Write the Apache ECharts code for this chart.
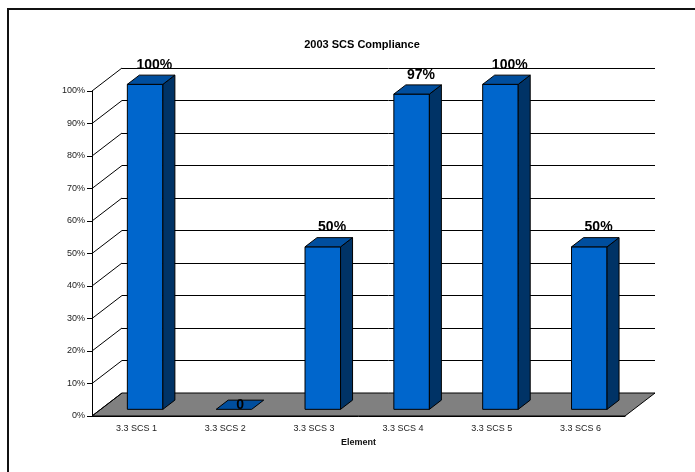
<!DOCTYPE html>
<html>
<head>
<meta charset="utf-8">
<script src="https://cdn.jsdelivr.net/npm/echarts@6/dist/echarts.min.js"></script>
<style>
  html, body { margin: 0; padding: 0; background: #fff; }
  #chart { width: 695px; height: 472px; }
</style>
</head>
<body>
<div id="chart"></div>
<script>
// Compliance results per element (percent)
const categories = ['3.3 SCS 1', '3.3 SCS 2', '3.3 SCS 3', '3.3 SCS 4', '3.3 SCS 5', '3.3 SCS 6'];
const compliance = [100, 0, 50, 97, 100, 50];
const percentTicks = [0, 10, 20, 30, 40, 50, 60, 70, 80, 90, 100];

// Pseudo-3D look: the back wall is shifted right/up by this depth vector
const DEPTH_X = 30;
const DEPTH_Y = 23;
const BAR_FRONT = 0.29;   // bar front face, as fraction of the depth
const BAR_BACK = 0.69;    // bar back face
const BAR_WIDTH = 0.4;    // fraction of a category band
const FONT = '"Liberation Sans", Arial, sans-serif';

const COLOR_FRONT = '#0066CC';
const COLOR_TOP = '#004E9E';
const COLOR_SIDE = '#003366';
const COLOR_FLOOR = '#808080';

function valueLabel(v) {
  return v === 0 ? '0' : v + '%';
}

const chart = echarts.init(document.getElementById('chart'), null, { renderer: 'canvas' });

// Grey floor under the bars
function renderFloor(params, api) {
  const cs = params.coordSys;
  const y0 = api.coord([0, 0])[1];
  const x0 = cs.x, x1 = cs.x + cs.width;
  return {
    type: 'polygon',
    shape: { points: [[x0, y0], [x1, y0], [x1 + DEPTH_X, y0 - DEPTH_Y], [x0 + DEPTH_X, y0 - DEPTH_Y]] },
    style: { fill: COLOR_FLOOR, stroke: '#000', lineWidth: 1 }
  };
}

// Diagonal gridlines on the left side wall
function renderWallLine(params, api) {
  const cs = params.coordSys;
  const y = api.coord([0, api.value(1)])[1];
  return {
    type: 'line',
    shape: { x1: cs.x, y1: y, x2: cs.x + DEPTH_X, y2: y - DEPTH_Y },
    style: { stroke: '#000', lineWidth: 1 }
  };
}

// Box-shaped bar with front, side and top faces plus its value label
function renderBar(params, api) {
  const idx = api.value(0);
  const val = api.value(1);
  const top = api.coord([idx, val]);
  const base = api.coord([idx, 0]);
  const bw = api.size([1, 0])[0] * BAR_WIDTH;
  const fx = BAR_FRONT * DEPTH_X, fy = BAR_FRONT * DEPTH_Y;
  const dx = (BAR_BACK - BAR_FRONT) * DEPTH_X, dy = (BAR_BACK - BAR_FRONT) * DEPTH_Y;
  const xl = top[0] - bw / 2 + fx;
  const xr = top[0] + bw / 2 + fx;
  const yt = top[1] - fy;
  const yb = base[1] - fy;
  const stroke = { stroke: '#000', lineWidth: 1, lineJoin: 'miter' };
  const children = [];
  if (yb - yt > 0.5) {
    children.push({
      type: 'polygon',
      shape: { points: [[xl, yt], [xr, yt], [xr, yb], [xl, yb]] },
      style: Object.assign({ fill: COLOR_FRONT }, stroke)
    });
    children.push({
      type: 'polygon',
      shape: { points: [[xr, yt], [xr + dx, yt - dy], [xr + dx, yb - dy], [xr, yb]] },
      style: Object.assign({ fill: COLOR_SIDE }, stroke)
    });
  }
  children.push({
    type: 'polygon',
    shape: { points: [[xl, yt], [xr, yt], [xr + dx, yt - dy], [xl + dx, yt - dy]] },
    style: Object.assign({ fill: COLOR_TOP }, stroke)
  });
  const flat = yb - yt <= 0.5;
  children.push({
    type: 'text',
    style: {
      text: valueLabel(val),
      x: top[0] + 0.6 * DEPTH_X - (flat ? 3 : 0),
      y: flat ? yt - dy / 2 : yt - dy - 3,
      fill: '#000',
      font: 'bold 14px ' + FONT,
      align: 'center',
      verticalAlign: flat ? 'middle' : 'bottom'
    }
  });
  return { type: 'group', children: children };
}

const option = {
  animation: false,
  backgroundColor: '#fff',
  title: {
    text: '2003 SCS Compliance',
    left: 357,
    top: 34,
    textAlign: 'center',
    textStyle: { fontFamily: FONT, fontSize: 11, fontWeight: 'bold', color: '#000' }
  },
  graphic: [{
    type: 'rect',
    shape: { x: 8, y: 9, width: 800, height: 600 },
    style: { fill: 'none', stroke: '#111', lineWidth: 2 },
    z: 100
  }],
  grid: [
    { left: 92, top: 91, width: 533, height: 325 },
    { left: 92 + DEPTH_X, top: 91 - DEPTH_Y, width: 533, height: 325 }
  ],
  xAxis: [{
    gridIndex: 0,
    type: 'category',
    data: categories,
    axisLine: { lineStyle: { color: '#000', width: 1 } },
    axisTick: { length: 5, lineStyle: { color: '#000' } },
    axisLabel: { fontFamily: FONT, fontSize: 9, color: '#222', margin: 8 },
    name: 'Element',
    nameLocation: 'middle',
    nameGap: 22,
    nameTextStyle: { fontFamily: FONT, fontSize: 9, fontWeight: 'bold', color: '#111' },
    splitLine: { show: false }
  }, {
    gridIndex: 1,
    type: 'category',
    data: categories,
    show: false
  }],
  yAxis: [{
    gridIndex: 0,
    type: 'value',
    min: 0, max: 100, interval: 10,
    axisLine: { show: true, lineStyle: { color: '#000', width: 1 } },
    axisTick: { show: true, length: 5, lineStyle: { color: '#000' } },
    axisLabel: { fontFamily: FONT, fontSize: 9, color: '#222', margin: 7, formatter: '{value}%' },
    splitLine: { show: false }
  }, {
    gridIndex: 1,
    type: 'value',
    min: 0, max: 100, interval: 10,
    axisLine: { show: false },
    axisTick: { show: false },
    axisLabel: { show: false },
    splitLine: { show: true, lineStyle: { color: '#000', width: 1 } }
  }],
  series: [{
    type: 'custom',
    name: 'floor',
    xAxisIndex: 0, yAxisIndex: 0,
    renderItem: renderFloor,
    data: [[0, 0]],
    z: 1, silent: true
  }, {
    type: 'custom',
    name: 'wall',
    xAxisIndex: 0, yAxisIndex: 0,
    renderItem: renderWallLine,
    data: percentTicks.map(t => [0, t]),
    z: 2, silent: true
  }, {
    type: 'custom',
    name: 'Compliance',
    xAxisIndex: 0, yAxisIndex: 0,
    renderItem: renderBar,
    data: compliance.map((v, i) => [i, v]),
    z: 3
  }]
};

chart.setOption(option);
</script>
</body>
</html>
